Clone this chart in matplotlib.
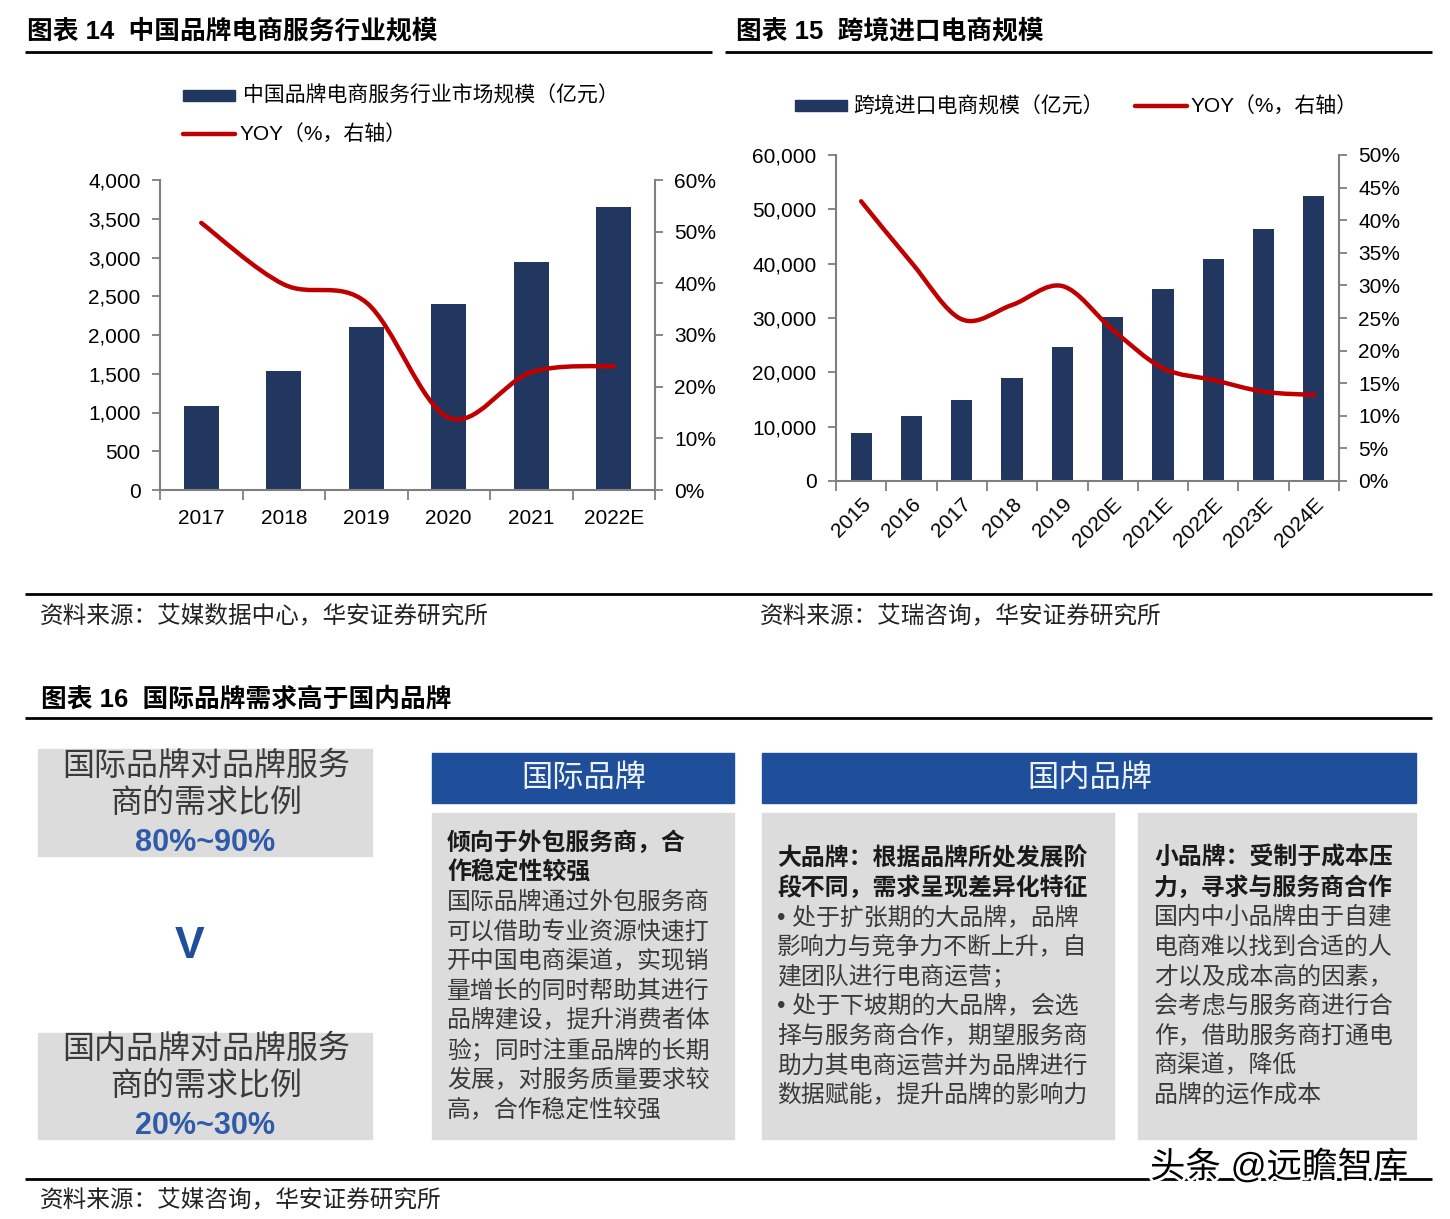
import numpy as np
import matplotlib
matplotlib.use("Agg")
import matplotlib.pyplot as plt
from matplotlib.path import Path
from matplotlib.patches import PathPatch, Rectangle
import matplotlib.patheffects as pe

plt.rcParams["font.family"] = ["Liberation Sans", "Noto Sans CJK SC", "DejaVu Sans"]

# ---------------- data ----------------
# 图表14 中国品牌电商服务行业规模
years_14 = ["2017", "2018", "2019", "2020", "2021", "2022E"]
size_14 = [1085, 1535, 2105, 2400, 2945, 3655]        # 亿元
yoy_14 = [51.7, 39.8, 36.3, 14.0, 22.8, 24.0]          # %

# 图表15 跨境进口电商规模
years_15 = ["2015", "2016", "2017", "2018", "2019", "2020E", "2021E", "2022E", "2023E", "2024E"]
size_15 = [8900, 11900, 15000, 19000, 24600, 30200, 35300, 40800, 46400, 52400]   # 亿元
yoy_15 = [42.9, 33.5, 24.8, 27.0, 29.9, 23.2, 17.3, 15.5, 13.7, 13.2]              # %

ticks_left_14 = [0, 500, 1000, 1500, 2000, 2500, 3000, 3500, 4000]
ticks_right_14 = [0, 10, 20, 30, 40, 50, 60]
ticks_left_15 = [0, 10000, 20000, 30000, 40000, 50000, 60000]
ticks_right_15 = [0, 5, 10, 15, 20, 25, 30, 35, 40, 45, 50]

NAVY = "#22375F"
RED = "#C00000"
GRAY_AX = "#7F7F7F"
BLUE = "#1F4E9B"
BOX = "#DCDCDC"

W, H = 1450, 1219
fig = plt.figure(figsize=(W / 100, H / 100), dpi=100)
fig.patch.set_facecolor("white")

# background axes in pixel coordinates for the page furniture
bg = fig.add_axes([0, 0, 1, 1])
bg.set_xlim(0, W)
bg.set_ylim(H, 0)
bg.axis("off")


def hline(y, x0, x1, lw=2.0):
    bg.plot([x0, x1], [y, y], color="black", lw=lw, solid_capstyle="butt")


def smooth_path(xs, ys):
    # Excel-like smoothed line: Catmull-Rom segments as cubic Bezier curves
    pts = list(zip(xs, ys))
    verts = [pts[0]]
    codes = [Path.MOVETO]
    n = len(pts)
    for i in range(n - 1):
        p0 = pts[max(i - 1, 0)]
        p1 = pts[i]
        p2 = pts[i + 1]
        p3 = pts[min(i + 2, n - 1)]
        c1 = (p1[0] + (p2[0] - p0[0]) / 6, p1[1] + (p2[1] - p0[1]) / 6)
        c2 = (p2[0] - (p3[0] - p1[0]) / 6, p2[1] - (p3[1] - p1[1]) / 6)
        verts += [c1, c2, p2]
        codes += [Path.CURVE4] * 3
    return Path(verts, codes)


def px_rect(x0, y0, x1, y1):
    return [x0 / W, (H - y1) / H, (x1 - x0) / W, (y1 - y0) / H]


def combo(rect, cats, bars, yoy, lticks, rticks, rotate):
    ax = fig.add_axes(rect)
    x = np.arange(len(cats))
    ax.bar(x, bars, width=0.42, color=NAVY, zorder=2)
    ax.set_xlim(-0.5, len(cats) - 0.5)
    ax.set_ylim(lticks[0], lticks[-1])
    ax.set_yticks(lticks)
    ax.set_yticklabels([f"{v:,}" for v in lticks])
    ax.set_xticks(x)
    ax.set_xticks(np.arange(-0.5, len(cats)), minor=True)
    if rotate:
        ax.set_xticklabels(cats, rotation=45, ha="right", va="top", rotation_mode="anchor")
        ax.tick_params(axis="x", which="major", length=0, labelsize=15, pad=10)
    else:
        ax.set_xticklabels(cats)
        ax.tick_params(axis="x", which="major", length=0, labelsize=15, pad=14)
    ax.tick_params(axis="x", which="minor", length=7, width=1.3, color=GRAY_AX, direction="out")
    ax.tick_params(axis="y", length=6, width=1.3, color=GRAY_AX, labelsize=15, pad=8)
    ax.set_facecolor("none")
    for s in ["top", "right"]:
        ax.spines[s].set_visible(False)
    for s in ["left", "bottom"]:
        ax.spines[s].set_color(GRAY_AX)
        ax.spines[s].set_linewidth(1.5)

    ax2 = ax.twinx()
    ax2.set_ylim(rticks[0], rticks[-1])
    ax2.set_yticks(rticks)
    ax2.set_yticklabels([f"{v}%" for v in rticks])
    ax2.tick_params(axis="y", length=6, width=1.3, color=GRAY_AX, labelsize=15, pad=8)
    for s in ["top", "left", "bottom"]:
        ax2.spines[s].set_visible(False)
    ax2.spines["right"].set_color(GRAY_AX)
    ax2.spines["right"].set_linewidth(1.5)
    patch = PathPatch(smooth_path(x, yoy), fill=False, edgecolor=RED, lw=3.2,
                      capstyle="round", joinstyle="round", zorder=3)
    ax2.add_patch(patch)
    return ax, ax2


# ---------------- 图表14 ----------------
bg.text(27, 31, "图表 14  中国品牌电商服务行业规模", fontsize=18.5, fontweight="bold", va="center")
hline(52, 25, 712)
bg.add_patch(Rectangle((183, 90), 52, 11, color=NAVY))
bg.text(243, 95, "中国品牌电商服务行业市场规模（亿元）", fontsize=15, va="center")
bg.plot([183, 235], [134, 134], color=RED, lw=3.2, solid_capstyle="round")
bg.text(240, 134, "YOY（%，右轴）", fontsize=15, va="center")
combo(px_rect(160, 180, 655, 490), years_14, size_14, yoy_14,
      ticks_left_14, ticks_right_14, rotate=False)

# ---------------- 图表15 ----------------
bg.text(736, 31, "图表 15  跨境进口电商规模", fontsize=18.5, fontweight="bold", va="center")
hline(52, 725, 1432)
bg.add_patch(Rectangle((795, 100), 52, 11, color=NAVY))
bg.text(853, 106, "跨境进口电商规模（亿元）", fontsize=15, va="center")
bg.plot([1135, 1187], [106, 106], color=RED, lw=3.2, solid_capstyle="round")
bg.text(1191, 106, "YOY（%，右轴）", fontsize=15, va="center")
combo(px_rect(836, 155, 1339, 481), years_15, size_15, yoy_15,
      ticks_left_15, ticks_right_15, rotate=True)

# sources
hline(594, 25, 1432)
bg.text(40, 616, "资料来源：艾媒数据中心，华安证券研究所", fontsize=17, va="center", color="#222222")
bg.text(760, 616, "资料来源：艾瑞咨询，华安证券研究所", fontsize=17, va="center", color="#222222")

# ---------------- 图表16 ----------------
bg.text(41, 699, "图表 16  国际品牌需求高于国内品牌", fontsize=18.5, fontweight="bold", va="center")
hline(718, 25, 1432)

# left comparison boxes
bg.add_patch(Rectangle((38, 749), 334, 107, color=BOX))
bg.text(206, 767, "国际品牌对品牌服务", fontsize=23, ha="center", va="center", color="#3A3A3A")
bg.text(206, 804, "商的需求比例", fontsize=23, ha="center", va="center", color="#3A3A3A")
bg.text(205, 843, "80%~90%", fontsize=22, fontweight="bold", ha="center", va="center", color="#2F5BA8")
bg.text(190, 946, "V", fontsize=32, fontweight="bold", ha="center", va="center", color=BLUE)
bg.add_patch(Rectangle((38, 1033), 334, 106, color=BOX))
bg.text(206, 1050, "国内品牌对品牌服务", fontsize=23, ha="center", va="center", color="#3A3A3A")
bg.text(206, 1087, "商的需求比例", fontsize=23, ha="center", va="center", color="#3A3A3A")
bg.text(205, 1126, "20%~30%", fontsize=22, fontweight="bold", ha="center", va="center", color="#2F5BA8")

# headers
bg.add_patch(Rectangle((432, 753), 302, 50, color=BLUE))
bg.text(584, 779, "国际品牌", fontsize=22.5, ha="center", va="center", color="#EEF3FA")
bg.add_patch(Rectangle((762, 753), 654, 50, color=BLUE))
bg.text(1090, 779, "国内品牌", fontsize=22.5, ha="center", va="center", color="#EEF3FA")

# text boxes
box_intl_bold = ["倾向于外包服务商，合", "作稳定性较强"]
box_intl = ["国际品牌通过外包服务商", "可以借助专业资源快速打", "开中国电商渠道，实现销",
            "量增长的同时帮助其进行", "品牌建设，提升消费者体", "验；同时注重品牌的长期",
            "发展，对服务质量要求较", "高，合作稳定性较强"]
box_big_bold = ["大品牌：根据品牌所处发展阶", "段不同，需求呈现差异化特征"]
box_big = ["• 处于扩张期的大品牌，品牌", "影响力与竞争力不断上升，自", "建团队进行电商运营；",
           "• 处于下坡期的大品牌，会选", "择与服务商合作，期望服务商", "助力其电商运营并为品牌进行",
           "数据赋能，提升品牌的影响力"]
box_small_bold = ["小品牌：受制于成本压", "力，寻求与服务商合作"]
box_small = ["国内中小品牌由于自建", "电商难以找到合适的人", "才以及成本高的因素，",
             "会考虑与服务商进行合", "作，借助服务商打通电", "商渠道，降低", "品牌的运作成本"]


def text_box(x0, x1, y0, y1, tx, ty, bold_lines, lines, fs):
    bg.add_patch(Rectangle((x0, y0), x1 - x0, y1 - y0, color=BOX))
    y = ty
    for s in bold_lines:
        bg.text(tx, y, s, fontsize=fs, fontweight="bold", va="center", color="#1A1A1A")
        y += 29.7
    for s in lines:
        bg.text(tx, y, s, fontsize=fs, va="center", color="#3A3A3A")
        y += 29.7


text_box(432, 734, 813, 1139, 447, 843, box_intl_bold, box_intl, 17.2)
text_box(762, 1114, 813, 1139, 777, 858, box_big_bold, box_big, 17.2)
text_box(1138, 1416, 813, 1139, 1154, 858, box_small_bold, box_small, 17.2)

hline(1179, 25, 1432)
bg.text(40, 1200, "资料来源：艾媒咨询，华安证券研究所", fontsize=17, va="center", color="#222222")
bg.text(1150, 1167, "头条 @远瞻智库", fontsize=25.5, va="center", color="black",
        path_effects=[pe.withStroke(linewidth=4, foreground="white")])

fig.savefig("out.png", dpi=100)
